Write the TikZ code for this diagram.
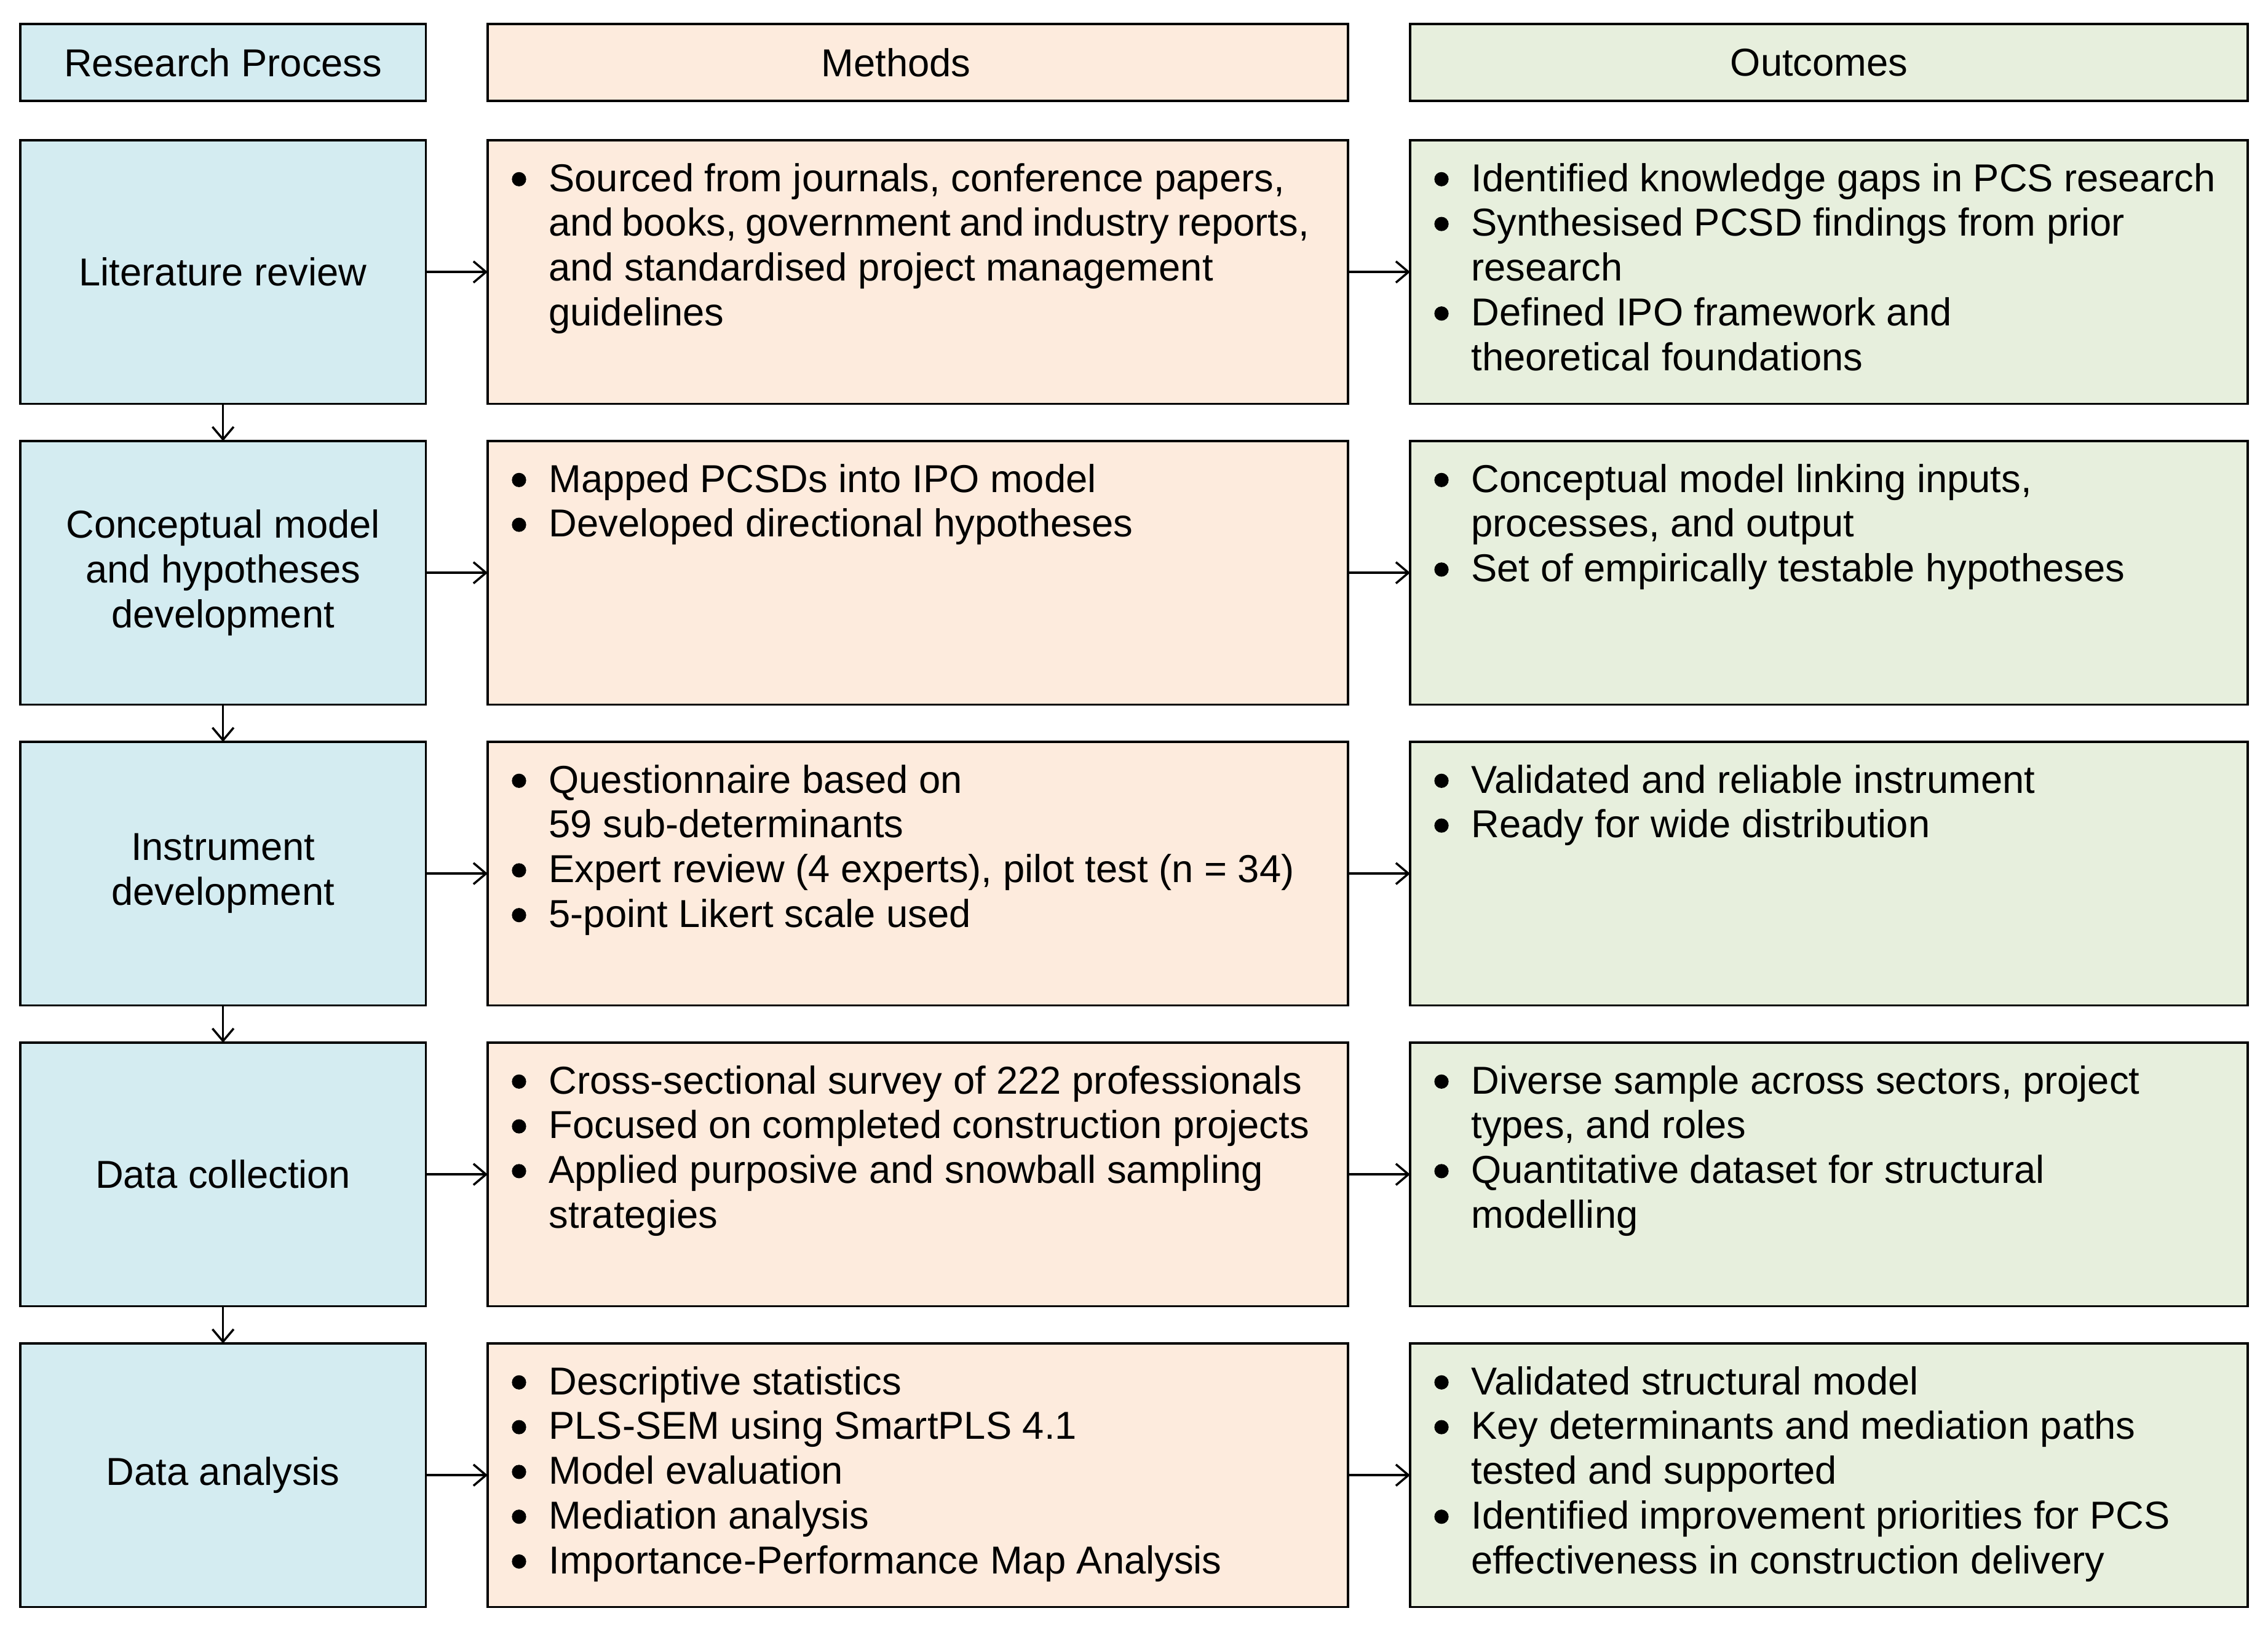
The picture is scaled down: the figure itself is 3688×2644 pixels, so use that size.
\documentclass[tikz,border=0pt]{standalone}
\usepackage{fontspec}
\setmainfont{Liberation Sans}
\usetikzlibrary{arrows.meta,positioning}
\definecolor{procblue}{HTML}{D4ECF1}
\definecolor{methpeach}{HTML}{FDEBDD}
\definecolor{outgreen}{HTML}{E7EFDD}
\newlength{\bulw}
\setlength{\bulw}{18.3pt}
\newcommand{\bi}{\makebox[\bulw][l]{\hspace*{1.2pt}\tikz[baseline=0pt]{\fill (3.3pt,5.6pt) circle[radius=3.3pt];}}}
\newcommand{\ci}{\hspace*{\bulw}}
\newcommand{\bodyfont}{\fontsize{18pt}{20.7pt}\selectfont}
\begin{document}
\begin{tikzpicture}[x=0.01cm,y=-0.01cm,
  box/.style={draw=black,line width=1pt,rectangle,inner sep=0pt,outer sep=0pt,anchor=north west},
  pbox/.style={box,fill=procblue,minimum width=6.59cm,align=center,font=\bodyfont},
  mbox/.style={box,fill=methpeach,minimum width=13.98cm},
  obox/.style={box,fill=outgreen,minimum width=13.61cm},
  rowbox/.style={minimum height=4.28cm},
  headbox/.style={minimum height=1.25cm,font=\bodyfont},
  btext/.style={inner sep=0pt,outer sep=0pt,anchor=base west,font=\bodyfont},
  arr/.style={line width=1pt,-{Straight Barb[length=5.8pt,width=9.8pt,line width=1pt]}}
]
\useasboundingbox (0,0) rectangle (3688,2644);

% headers
\node[pbox,headbox] (hp) at (33,39) {Research Process};
\node[mbox,headbox,font=\bodyfont] (hm) at (793,39) {Methods\hspace*{20pt}};
\node[obox,headbox,font=\bodyfont] (ho) at (2293,39) {Outcomes\hspace*{9pt}};

% process column
\node[pbox,rowbox] (p1) at (33,228) {Literature review};
\node[pbox,rowbox] (p2) at (33,717) {Conceptual model\\and hypotheses\\development};
\node[pbox,rowbox] (p3) at (33,1206) {Instrument\\development};
\node[pbox,rowbox] (p4) at (33,1695) {Data collection};
\node[pbox,rowbox] (p5) at (33,2184) {Data analysis};

% methods column
\node[mbox,rowbox] (m1) at (793,228) {};
\node[mbox,rowbox] (m2) at (793,717) {};
\node[mbox,rowbox] (m3) at (793,1206) {};
\node[mbox,rowbox] (m4) at (793,1695) {};
\node[mbox,rowbox] (m5) at (793,2184) {};

% outcomes column
\node[obox,rowbox] (o1) at (2293,228) {};
\node[obox,rowbox] (o2) at (2293,717) {};
\node[obox,rowbox] (o3) at (2293,1206) {};
\node[obox,rowbox] (o4) at (2293,1695) {};
\node[obox,rowbox] (o5) at (2293,2184) {};

% methods texts
\node[btext] (m1t) at ([xshift=10pt,yshift=-23.6pt]m1.north west) {\parbox[t]{13cm}{\bi Sourced from journals, conference papers,\\\ci and books, government and industry reports,\\\ci and standardised project management\\\ci guidelines}};
\node[btext] (m2t) at ([xshift=10pt,yshift=-23.6pt]m2.north west) {\parbox[t]{13cm}{\bi Mapped PCSDs into IPO model\\\bi Developed directional hypotheses}};
\node[btext] (m3t) at ([xshift=10pt,yshift=-23.6pt]m3.north west) {\parbox[t]{13cm}{\bi Questionnaire based on\\\ci 59 sub-determinants\\\bi Expert review (4 experts), pilot test (n = 34)\\\bi 5-point Likert scale used}};
\node[btext] (m4t) at ([xshift=10pt,yshift=-23.6pt]m4.north west) {\parbox[t]{13cm}{\bi Cross-sectional survey of 222 professionals\\\bi Focused on completed construction projects\\\bi Applied purposive and snowball sampling\\\ci strategies}};
\node[btext] (m5t) at ([xshift=10pt,yshift=-23.6pt]m5.north west) {\parbox[t]{13cm}{\bi Descriptive statistics\\\bi PLS-SEM using SmartPLS 4.1\\\bi Model evaluation\\\bi Mediation analysis\\\bi Importance-Performance Map Analysis}};

% outcomes texts
\node[btext] (o1t) at ([xshift=10pt,yshift=-23.6pt]o1.north west) {\parbox[t]{13cm}{\bi Identified knowledge gaps in PCS research\\\bi Synthesised PCSD findings from prior\\\ci research\\\bi Defined IPO framework and\\\ci theoretical foundations}};
\node[btext] (o2t) at ([xshift=10pt,yshift=-23.6pt]o2.north west) {\parbox[t]{13cm}{\bi Conceptual model linking inputs,\\\ci processes, and output\\\bi Set of empirically testable hypotheses}};
\node[btext] (o3t) at ([xshift=10pt,yshift=-23.6pt]o3.north west) {\parbox[t]{13cm}{\bi Validated and reliable instrument\\\bi Ready for wide distribution}};
\node[btext] (o4t) at ([xshift=10pt,yshift=-23.6pt]o4.north west) {\parbox[t]{13cm}{\bi Diverse sample across sectors, project\\\ci types, and roles\\\bi Quantitative dataset for structural\\\ci modelling}};
\node[btext] (o5t) at ([xshift=10pt,yshift=-23.6pt]o5.north west) {\parbox[t]{13cm}{\bi Validated structural model\\\bi Key determinants and mediation paths\\\ci tested and supported\\\bi Identified improvement priorities for PCS\\\ci effectiveness in construction delivery}};

% horizontal arrows
\foreach \i in {1,...,5}{
  \draw[arr] (p\i.east) -- (m\i.west);
  \draw[arr] (m\i.east) -- (o\i.west);
}
% vertical arrows
\draw[arr] (p1.south) -- (p2.north);
\draw[arr] (p2.south) -- (p3.north);
\draw[arr] (p3.south) -- (p4.north);
\draw[arr] (p4.south) -- (p5.north);
\end{tikzpicture}
\end{document}
